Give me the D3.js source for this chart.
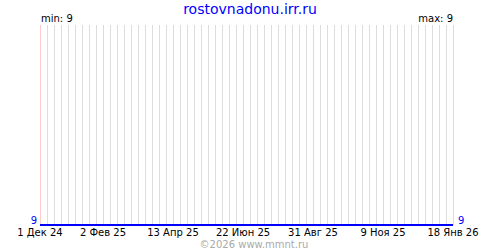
<!DOCTYPE html>
<html>
<head>
<meta charset="utf-8">
<script src="https://cdn.jsdelivr.net/npm/d3@7"></script>
<style>
    body { margin: 0; background: #fff; }
    svg { display: block; font-family: "DejaVu Sans", Verdana, sans-serif; }
</style>
</head>
<body>
<div id="chart"></div>
<script>
// series (one flat line)
let pointDates = ["2024-12-01", "2026-01-18"];
let pointValues = [9, 9];

// x tick labels
let tickDates = ["2024-12-01", "2025-02-02", "2025-04-13", "2025-06-22", "2025-08-31", "2025-11-09", "2026-01-18"];
let tickLabels = ["1 Дек 24", "2 Фев 25", "13 Апр 25", "22 Июн 25", "31 Авг 25", "9 Ноя 25", "18 Янв 26"];

let title = "rostovnadonu.irr.ru";
let footer = "©2026 www.mmnt.ru";

let parse = d3.timeParse("%Y-%m-%d");

let width = 500, height = 250;
let margin = { top: 25, right: 47, bottom: 25, left: 40 };

let svg = d3.select("#chart").append("svg")
    .attr("width", width)
    .attr("height", height);

let x = d3.scaleTime()
    .domain([parse(pointDates[0]), parse(pointDates[pointDates.length - 1])])
    .range([margin.left, width - margin.right]);

let minV = d3.min(pointValues), maxV = d3.max(pointValues);
let y = d3.scaleLinear()
    .domain([minV, maxV > minV ? maxV : minV + 1])
    .range([height - margin.bottom, margin.top]);

// weekly grid (sundays)
let weeks = d3.timeWeek.range(x.domain()[0], d3.timeDay.offset(x.domain()[1], 1));
svg.append("g")
    .selectAll("line")
    .data(weeks)
    .join("line")
    .attr("x1", d => Math.round(x(d)) + 0.5)
    .attr("x2", d => Math.round(x(d)) + 0.5)
    .attr("y1", margin.top)
    .attr("y2", height - margin.bottom)
    .attr("stroke", "#dddddd")
    .attr("shape-rendering", "crispEdges");

// label lines in pink
let ticks = tickDates.map(parse);
svg.append("g")
    .selectAll("line")
    .data(ticks)
    .join("line")
    .attr("x1", d => Math.round(x(d)) + 0.5)
    .attr("x2", d => Math.round(x(d)) + 0.5)
    .attr("y1", margin.top)
    .attr("y2", height - margin.bottom)
    .attr("stroke", "#ffcccc")
    .attr("shape-rendering", "crispEdges");

// x axis labels
svg.append("g")
    .selectAll("text")
    .data(ticks)
    .join("text")
    .attr("x", d => x(d))
    .attr("y", 236)
    .attr("text-anchor", "middle")
    .attr("font-size", 10)
    .attr("fill", "#000")
    .text((d, i) => tickLabels[i]);

// the line
let line = d3.line()
    .x(d => x(parse(d.date)))
    .y(d => Math.round(y(d.value)));

svg.append("path")
    .datum(pointDates.map((d, i) => ({ date: d, value: pointValues[i] })))
    .attr("d", line)
    .attr("fill", "none")
    .attr("stroke", "#0000ff")
    .attr("stroke-width", 2)
    .attr("shape-rendering", "crispEdges");

// end values
svg.append("text")
    .attr("x", margin.left - 3)
    .attr("y", y(pointValues[0]) - 1)
    .attr("text-anchor", "end")
    .attr("font-size", 10)
    .attr("fill", "#0000ff")
    .text(pointValues[0]);

svg.append("text")
    .attr("x", width - margin.right + 5)
    .attr("y", y(pointValues[pointValues.length - 1]) - 1)
    .attr("font-size", 10)
    .attr("fill", "#0000ff")
    .text(pointValues[pointValues.length - 1]);

// min / max
svg.append("text")
    .attr("x", margin.left + 1)
    .attr("y", 22)
    .attr("font-size", 10)
    .attr("fill", "#000")
    .text("min: " + minV);

svg.append("text")
    .attr("x", width - margin.right)
    .attr("y", 22)
    .attr("text-anchor", "end")
    .attr("font-size", 10)
    .attr("fill", "#000")
    .text("max: " + maxV);

// title + footer
svg.append("text")
    .attr("x", width / 2)
    .attr("y", 14)
    .attr("text-anchor", "middle")
    .attr("font-size", 14)
    .attr("fill", "#0000ff")
    .text(title);

svg.append("text")
    .attr("x", width / 2 + 4)
    .attr("y", 248)
    .attr("text-anchor", "middle")
    .attr("font-size", 10)
    .attr("fill", "#aaaaaa")
    .text(footer);
</script>
</body>
</html>
